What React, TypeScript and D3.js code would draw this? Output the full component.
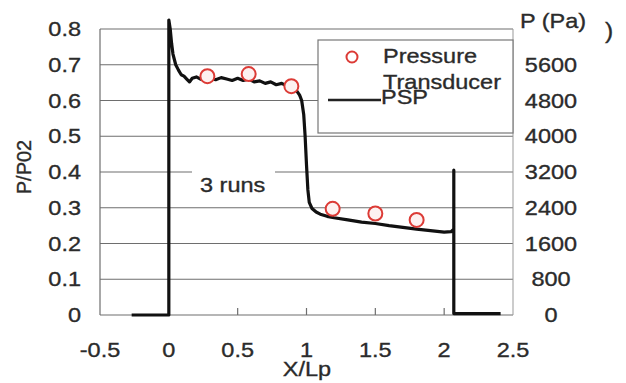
import React from "react";
import * as d3 from "d3";

// PSP trace, X/Lp vs P/P02
const pspX = [
  -0.27, 0, 0, 0.01, 0.02, 0.03, 0.05, 0.07, 0.09, 0.11, 0.13, 0.15, 0.17, 0.2, 0.23, 0.27, 0.3,
  0.34, 0.38, 0.42, 0.46, 0.5, 0.54, 0.58, 0.62, 0.66, 0.7, 0.74, 0.78, 0.82, 0.86, 0.9, 0.93,
  0.95, 0.965, 0.98, 0.99, 1.0, 1.01, 1.02, 1.04, 1.07, 1.1, 1.15, 1.2, 1.3, 1.4, 1.5, 1.6,
  1.7, 1.8, 1.9, 2.0, 2.05, 2.07, 2.07, 2.07, 2.41,
];
const pspY = [
  0, 0, 0.825, 0.8, 0.76, 0.73, 0.7, 0.685, 0.672, 0.668, 0.66, 0.652, 0.662, 0.666, 0.66, 0.668,
  0.664, 0.658, 0.664, 0.66, 0.656, 0.662, 0.656, 0.66, 0.652, 0.655, 0.648, 0.652, 0.644, 0.648,
  0.64, 0.632, 0.626, 0.615, 0.6, 0.56, 0.5, 0.42, 0.35, 0.315, 0.298, 0.288, 0.282, 0.276,
  0.272, 0.266, 0.26, 0.256, 0.25, 0.245, 0.24, 0.236, 0.232, 0.233, 0.24, 0.405, 0.004, 0.004,
];

// pressure transducer points
const ptX = [0.28, 0.58, 0.89, 1.19, 1.5, 1.8];
const ptY = [0.668, 0.674, 0.64, 0.297, 0.284, 0.266];

const xTicks = [-0.5, 0, 0.5, 1, 1.5, 2, 2.5];
const yTicks = [0, 0.1, 0.2, 0.3, 0.4, 0.5, 0.6, 0.7, 0.8];
const paTicks = [0, 800, 1600, 2400, 3200, 4000, 4800, 5600];

const W = 626;
const H = 383;
const FONT = "'Liberation Sans', Arial, sans-serif";
const TXT = "#2b2b2b";
const GRID = "#6e6e6e";
const RED = "#dc3b36";

// glyphs in the picture are a little wider than tall
function Label(props: { x: number; y: number; anchor?: string; size?: number; children: any }) {
  const { x, y, anchor = "start", size = 21, children } = props;
  return (
    <text
      transform={`translate(${x},${y}) scale(1.12,1)`}
      textAnchor={anchor}
      fontSize={size}
      fill={TXT}
      stroke={TXT}
      strokeWidth={0.35}
      fontFamily={FONT}
    >
      {children}
    </text>
  );
}

export default function App() {
  const x = d3.scaleLinear().domain([-0.5, 2.5]).range([100, 513]);
  const y = d3.scaleLinear().domain([0, 0.8]).range([315, 29]);
  const yPa = d3.scaleLinear().domain([0, 6400]).range([315, 29]);

  const line = d3
    .line<number>()
    .x((d, i) => x(pspX[i]))
    .y(d => y(d));

  return (
    <svg
      width={W}
      height={H}
      style={{ position: "absolute", left: 0, top: 0, background: "#fff" }}
    >
      {/* grid */}
      {yTicks.map(t => (
        <line key={"g" + t} x1={x(-0.5)} x2={x(2.5)} y1={y(t)} y2={y(t)} stroke={GRID} strokeWidth={1.2} />
      ))}
      <line x1={x(-0.5)} x2={x(-0.5)} y1={y(0.8)} y2={y(0)} stroke={GRID} strokeWidth={1.2} />
      <line x1={x(2.5)} x2={x(2.5)} y1={y(0.8)} y2={y(0)} stroke="#999" strokeWidth={1} />
      {[0.5, 1, 1.5, 2].map(t => (
        <line key={"tk" + t} x1={x(t)} x2={x(t)} y1={y(0)} y2={y(0) - 7} stroke={GRID} strokeWidth={1.2} />
      ))}

      {/* "3 runs" note */}
      <rect x={192} y={166} width={83} height={30} fill="#fff" />
      <Label x={200} y={192}>3 runs</Label>

      {/* PSP */}
      <path d={line(pspY) || ""} fill="none" stroke="#111" strokeWidth={3.2} strokeLinejoin="round" />

      {/* transducer */}
      {ptX.map((v, i) => (
        <circle key={"p" + i} cx={x(v)} cy={y(ptY[i])} r={7} fill="#fdf1f0" stroke={RED} strokeWidth={2} />
      ))}

      {/* legend */}
      <rect x={318} y={40} width={195} height={93} fill="#fff" stroke="#777" strokeWidth={1.2} />
      <circle cx={352} cy={57} r={5.5} fill="#fff" stroke={RED} strokeWidth={2} />
      <Label x={383} y={63}>Pressure</Label>
      <Label x={383} y={89}>Transducer</Label>
      <line x1={328} x2={381} y1={100} y2={100} stroke="#222" strokeWidth={2.5} />
      <Label x={381} y={104}>PSP</Label>

      {/* left axis labels */}
      {yTicks.map(t => (
        <Label key={"yl" + t} x={81} y={y(t) + 7} anchor="end">
          {String(t)}
        </Label>
      ))}
      {/* right axis labels */}
      {paTicks.map(t => (
        <Label key={"pl" + t} x={551} y={yPa(t) + 7} anchor="middle">
          {String(t)}
        </Label>
      ))}
      <Label x={520} y={28}>P (Pa)</Label>
      <Label x={605} y={38} size={22}>)</Label>

      {/* x labels */}
      {xTicks.map(t => (
        <Label key={"xl" + t} x={x(t)} y={357} anchor="middle">
          {String(t)}
        </Label>
      ))}
      <Label x={307} y={376} anchor="middle">X/Lp</Label>
      <text
        transform={`translate(31,167) rotate(-90)`}
        textAnchor="middle"
        fontSize={20}
        fill={TXT}
        stroke={TXT}
        strokeWidth={0.35}
        fontFamily={FONT}
      >
        P/P02
      </text>
    </svg>
  );
}
